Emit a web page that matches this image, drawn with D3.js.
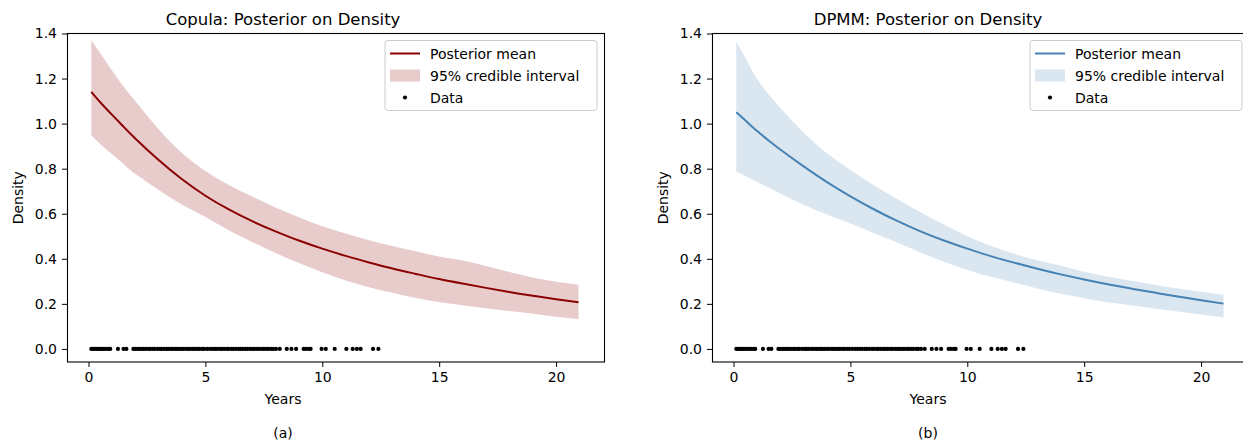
<!DOCTYPE html>
<html>
<head>
<meta charset="utf-8">
<script src="https://cdn.jsdelivr.net/npm/d3@7"></script>
<style>
  html, body { margin: 0; padding: 0; background: #fff; }
  svg { display: block; font-family: "DejaVu Sans", sans-serif; }
</style>
</head>
<body>
<svg id="fig" width="1243" height="442"></svg>
<script>
// Evaluation grid (years) shared by the posterior summaries
const gridYears = [0.12, 0.5, 1, 1.5, 2, 3, 4, 5, 6, 7, 8, 9, 10, 11, 12, 13, 14, 15, 16, 17, 18, 19, 20, 20.96];

// Copula model: posterior mean and 95% band
const copulaMean  = [1.141, 1.095, 1.04, 0.986, 0.934, 0.838, 0.753, 0.68, 0.619, 0.567, 0.522, 0.481, 0.445, 0.413, 0.384, 0.357, 0.333, 0.31, 0.29, 0.271, 0.253, 0.236, 0.221, 0.207];
const copulaUpper = [1.37, 1.313, 1.237, 1.165, 1.1, 0.975, 0.87, 0.79, 0.728, 0.677, 0.628, 0.585, 0.545, 0.512, 0.482, 0.457, 0.433, 0.41, 0.393, 0.368, 0.341, 0.317, 0.298, 0.285];
const copulaLower = [0.95, 0.91, 0.865, 0.82, 0.777, 0.705, 0.64, 0.586, 0.527, 0.475, 0.426, 0.381, 0.34, 0.304, 0.274, 0.249, 0.226, 0.208, 0.194, 0.181, 0.168, 0.156, 0.143, 0.132];

// DPMM model: posterior mean and 95% band
const dpmmMean  = [1.05, 1.015, 0.968, 0.925, 0.885, 0.81, 0.74, 0.677, 0.62, 0.568, 0.522, 0.481, 0.445, 0.412, 0.383, 0.356, 0.331, 0.308, 0.287, 0.268, 0.25, 0.233, 0.216, 0.201];
const dpmmUpper = [1.363, 1.292, 1.2, 1.13, 1.07, 0.96, 0.869, 0.794, 0.727, 0.666, 0.607, 0.552, 0.5, 0.458, 0.422, 0.394, 0.369, 0.343, 0.322, 0.303, 0.285, 0.268, 0.254, 0.24];
const dpmmLower = [0.787, 0.768, 0.742, 0.716, 0.69, 0.64, 0.597, 0.557, 0.515, 0.472, 0.428, 0.387, 0.35, 0.32, 0.295, 0.268, 0.245, 0.225, 0.207, 0.194, 0.18, 0.166, 0.153, 0.14];

// Observed survival times (years), shown as a rug at zero density
const dataYears = [
  0.12, 0.2, 0.28, 0.35, 0.42, 0.5, 0.58, 0.66, 0.75, 0.85, 0.93,
  1.26, 1.5, 1.62,
  1.92, 2.0, 2.1, 2.18, 2.27, 2.35, 2.45, 2.56, 2.64, 2.75, 2.83, 2.95,
  3.05, 3.12, 3.22, 3.33, 3.41, 3.52, 3.6, 3.71, 3.8, 3.9, 4.0, 4.08,
  4.2, 4.28, 4.38, 4.47, 4.55, 4.66, 4.75, 4.86, 4.95, 5.08, 5.2, 5.3,
  5.41, 5.5, 5.62, 5.7, 5.8, 5.92, 6.0, 6.12, 6.2, 6.31, 6.42, 6.5,
  6.6, 6.71, 6.8, 6.92, 7.02, 7.1, 7.21, 7.3, 7.42, 7.5, 7.6, 7.7,
  7.82, 7.9, 8.02,
  8.18, 8.48, 8.68, 8.88, 9.2, 9.3, 9.42, 9.5, 9.97, 10.15, 10.53,
  11.03, 11.3, 11.48, 11.64, 12.17, 12.4
];

const xTicks = [0, 5, 10, 15, 20];
const yTicks = [0.0, 0.2, 0.4, 0.6, 0.8, 1.0, 1.2, 1.4];
const legendLabels = ["Posterior mean", "95% credible interval", "Data"];

const panels = [
  { title: "Copula: Posterior on Density", caption: "(a)", color: "#8b0000",
    mean: copulaMean, lower: copulaLower, upper: copulaUpper, left: 67 },
  { title: "DPMM: Posterior on Density", caption: "(b)", color: "#4682b4",
    mean: dpmmMean, lower: dpmmLower, upper: dpmmUpper, left: 712 }
];

const svg = d3.select("#fig");
const W = 537, plotTop = 33.5, plotBottom = 362;

panels.forEach((p, pi) => {
  const x = d3.scaleLinear().domain([-0.92, 22.05]).range([p.left, p.left + W]);
  const y = d3.scaleLinear().domain([-0.058, 1.4]).range([plotBottom, plotTop]);
  const g = svg.append("g");
  const clipId = "clip" + pi;
  svg.append("clipPath").attr("id", clipId)
    .append("rect").attr("x", p.left).attr("y", plotTop).attr("width", W).attr("height", plotBottom - plotTop);

  const pts = gridYears.map((t, i) => ({ t, m: p.mean[i], lo: p.lower[i], hi: p.upper[i] }));

  // credible band
  g.append("path").datum(pts)
    .attr("clip-path", `url(#${clipId})`)
    .attr("fill", p.color).attr("fill-opacity", 0.2)
    .attr("d", d3.area().x(d => x(d.t)).y0(d => y(d.lo)).y1(d => y(d.hi)).curve(d3.curveNatural));

  // posterior mean
  g.append("path").datum(pts)
    .attr("fill", "none").attr("stroke", p.color).attr("stroke-width", 2)
    .attr("d", d3.line().x(d => x(d.t)).y(d => y(d.m)).curve(d3.curveNatural));

  // data rug
  g.selectAll("circle.obs").data(dataYears).join("circle")
    .attr("class", "obs")
    .attr("cx", d => x(d)).attr("cy", y(0)).attr("r", 2.1).attr("fill", "#000");

  // axes
  const xAxis = g.append("g").attr("transform", `translate(0,${plotBottom})`)
    .call(d3.axisBottom(x).tickValues(xTicks).tickSize(5).tickPadding(5).tickFormat(d3.format("d")));
  const yAxis = g.append("g").attr("transform", `translate(${p.left},0)`)
    .call(d3.axisLeft(y).tickValues(yTicks).tickSize(5).tickPadding(5).tickFormat(d3.format(".1f")));
  [xAxis, yAxis].forEach(a => {
    a.select(".domain").remove();
    a.selectAll("text").attr("font-size", 14).attr("font-family", "DejaVu Sans").attr("fill", "#000");
    a.selectAll("line").attr("stroke", "#000").attr("stroke-width", 1);
  });

  // frame
  g.append("rect").attr("x", p.left + 0.5).attr("y", plotTop).attr("width", W).attr("height", plotBottom - plotTop)
    .attr("fill", "none").attr("stroke", "#000").attr("stroke-width", 1.1);

  // titles and labels
  const cx = p.left + 216;
  g.append("text").attr("x", cx).attr("y", 25)
    .attr("text-anchor", "middle").attr("font-size", 16.5).text(p.title);
  g.append("text").attr("x", cx).attr("y", 404)
    .attr("text-anchor", "middle").attr("font-size", 14).text("Years");
  g.append("text").attr("x", cx).attr("y", 438)
    .attr("text-anchor", "middle").attr("font-size", 14).text(p.caption);
  g.append("text").attr("transform", `translate(${p.left - 44},${(plotTop + plotBottom) / 2}) rotate(-90)`)
    .attr("text-anchor", "middle").attr("font-size", 14).text("Density");

  // legend
  const lw = 212, lh = 70;
  const lx = p.left + W - 7 - lw, ly = plotTop + 7;
  const lg = g.append("g").attr("transform", `translate(${lx},${ly})`);
  lg.append("rect").attr("width", lw).attr("height", lh).attr("rx", 3)
    .attr("fill", "#fff").attr("fill-opacity", 0.8).attr("stroke", "#cccccc").attr("stroke-width", 1);
  const rows = [13, 35, 57];
  lg.append("line").attr("x1", 5).attr("x2", 35).attr("y1", rows[0]).attr("y2", rows[0])
    .attr("stroke", p.color).attr("stroke-width", 2);
  lg.append("rect").attr("x", 5).attr("y", rows[1] - 6).attr("width", 30).attr("height", 12)
    .attr("fill", p.color).attr("fill-opacity", 0.2);
  lg.append("circle").attr("cx", 20).attr("cy", rows[2]).attr("r", 2.1).attr("fill", "#000");
  legendLabels.forEach((t, i) => {
    lg.append("text").attr("x", 45).attr("y", rows[i] + 5).attr("font-size", 14).text(t);
  });
});
</script>
</body>
</html>
